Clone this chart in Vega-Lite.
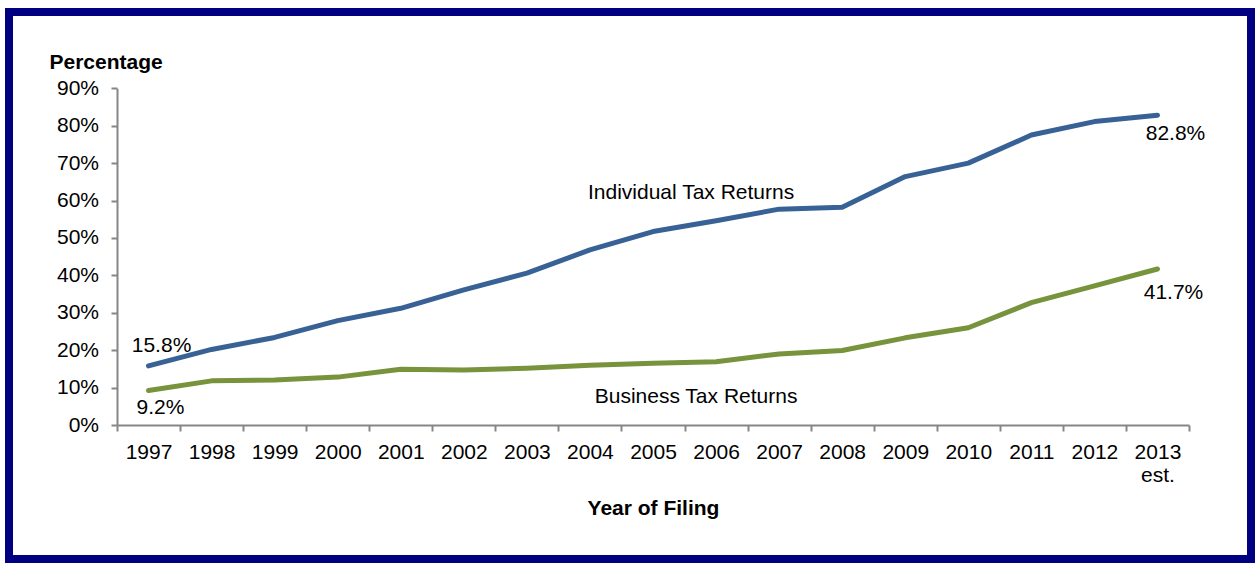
{
  "$schema": "https://vega.github.io/schema/vega-lite/v6.json",
  "width": 1242,
  "height": 547,
  "autosize": {"type": "none"},
  "padding": {"left": 9, "top": 12, "right": 7, "bottom": 4},
  "background": "white",
  "config": {
    "view": {"stroke": "#000080", "strokeWidth": 8, "fill": "white"},
    "font": "Liberation Sans",
    "text": {"font": "Liberation Sans", "fontSize": 21, "color": "black"},
    "axis": {
      "labelFont": "Liberation Sans",
      "labelFontSize": 21,
      "labelColor": "black",
      "titleFont": "Liberation Sans",
      "titleFontSize": 21,
      "titleFontWeight": "bold",
      "titleColor": "black",
      "domainColor": "#868686",
      "domainWidth": 2,
      "tickColor": "#868686",
      "tickWidth": 2,
      "tickSize": 6,
      "grid": false
    }
  },
  "datasets": {
    "rates": [
      {"year": "1997", "series": "Individual", "value": 0.158},
      {"year": "1998", "series": "Individual", "value": 0.202},
      {"year": "1999", "series": "Individual", "value": 0.234},
      {"year": "2000", "series": "Individual", "value": 0.279},
      {"year": "2001", "series": "Individual", "value": 0.312},
      {"year": "2002", "series": "Individual", "value": 0.361},
      {"year": "2003", "series": "Individual", "value": 0.406},
      {"year": "2004", "series": "Individual", "value": 0.468},
      {"year": "2005", "series": "Individual", "value": 0.517},
      {"year": "2006", "series": "Individual", "value": 0.546},
      {"year": "2007", "series": "Individual", "value": 0.577},
      {"year": "2008", "series": "Individual", "value": 0.582},
      {"year": "2009", "series": "Individual", "value": 0.664},
      {"year": "2010", "series": "Individual", "value": 0.700},
      {"year": "2011", "series": "Individual", "value": 0.775},
      {"year": "2012", "series": "Individual", "value": 0.811},
      {"year": "2013", "series": "Individual", "value": 0.828},
      {"year": "1997", "series": "Business", "value": 0.092},
      {"year": "1998", "series": "Business", "value": 0.118},
      {"year": "1999", "series": "Business", "value": 0.120},
      {"year": "2000", "series": "Business", "value": 0.128},
      {"year": "2001", "series": "Business", "value": 0.149},
      {"year": "2002", "series": "Business", "value": 0.147},
      {"year": "2003", "series": "Business", "value": 0.152},
      {"year": "2004", "series": "Business", "value": 0.160},
      {"year": "2005", "series": "Business", "value": 0.165},
      {"year": "2006", "series": "Business", "value": 0.169},
      {"year": "2007", "series": "Business", "value": 0.190},
      {"year": "2008", "series": "Business", "value": 0.199},
      {"year": "2009", "series": "Business", "value": 0.233},
      {"year": "2010", "series": "Business", "value": 0.260},
      {"year": "2011", "series": "Business", "value": 0.327},
      {"year": "2012", "series": "Business", "value": 0.372},
      {"year": "2013", "series": "Business", "value": 0.417}
    ]
  },
  "data": {"name": "rates"},
  "layer": [
    {
      "mark": {"type": "line", "strokeWidth": 5, "strokeCap": "round", "strokeJoin": "round"},
      "encoding": {
        "x": {
          "field": "year",
          "type": "nominal",
          "bandPosition": 0.5,
          "scale": {"type": "band", "range": [108, 1180], "paddingInner": 0, "paddingOuter": 0},
          "axis": {
            "title": "Year of Filing",
            "orient": "bottom",
            "offset": -134,
            "tickBand": "extent",
            "labelAngle": 0,
            "labelPadding": 10,
            "labelLineHeight": 23,
            "labelExpr": "datum.value == '2013' ? ['2013', 'est.'] : datum.label",
            "titleY": 89,
            "titleBaseline": "alphabetic"
          }
        },
        "y": {
          "field": "value",
          "type": "quantitative",
          "scale": {"domain": [0, 0.9], "range": [413, 76.3], "nice": false, "zero": true},
          "axis": {
            "title": "Percentage",
            "offset": -108,
            "values": [0, 0.1, 0.2, 0.3, 0.4, 0.5, 0.6, 0.7, 0.8, 0.9],
            "format": ".0%",
            "labelPadding": 12.5,
            "titleAngle": 0,
            "titleX": -68,
            "titleY": 56,
            "titleAlign": "left",
            "titleBaseline": "alphabetic"
          }
        },
        "color": {
          "field": "series",
          "type": "nominal",
          "scale": {"domain": ["Individual", "Business"], "range": ["#386296", "#77933C"]},
          "legend": null
        }
      }
    },
    {
      "transform": [{"filter": "datum.series == 'Individual' && datum.year == '1997'"}],
      "mark": {"type": "text", "align": "center", "baseline": "alphabetic", "dx": 13, "dy": -14},
      "encoding": {
        "x": {"field": "year", "type": "nominal", "bandPosition": 0.5},
        "y": {"field": "value", "type": "quantitative"},
        "text": {"field": "value", "type": "quantitative", "format": ".1%"}
      }
    },
    {
      "transform": [{"filter": "datum.series == 'Business' && datum.year == '1997'"}],
      "mark": {"type": "text", "align": "center", "baseline": "alphabetic", "dx": 12, "dy": 23},
      "encoding": {
        "x": {"field": "year", "type": "nominal", "bandPosition": 0.5},
        "y": {"field": "value", "type": "quantitative"},
        "text": {"field": "value", "type": "quantitative", "format": ".1%"}
      }
    },
    {
      "transform": [{"filter": "datum.series == 'Individual' && datum.year == '2013'"}],
      "mark": {"type": "text", "align": "center", "baseline": "alphabetic", "dx": 18, "dy": 25},
      "encoding": {
        "x": {"field": "year", "type": "nominal", "bandPosition": 0.5},
        "y": {"field": "value", "type": "quantitative"},
        "text": {"field": "value", "type": "quantitative", "format": ".1%"}
      }
    },
    {
      "transform": [{"filter": "datum.series == 'Business' && datum.year == '2013'"}],
      "mark": {"type": "text", "align": "center", "baseline": "alphabetic", "dx": 16, "dy": 30},
      "encoding": {
        "x": {"field": "year", "type": "nominal", "bandPosition": 0.5},
        "y": {"field": "value", "type": "quantitative"},
        "text": {"field": "value", "type": "quantitative", "format": ".1%"}
      }
    },
    {
      "data": {"values": [{}]},
      "mark": {"type": "text", "align": "center", "baseline": "alphabetic", "dx": -25, "text": "Individual Tax Returns"},
      "encoding": {
        "x": {"datum": "2006", "type": "nominal", "bandPosition": 0.5},
        "y": {"datum": 0.603, "type": "quantitative"}
      }
    },
    {
      "data": {"values": [{}]},
      "mark": {"type": "text", "align": "center", "baseline": "alphabetic", "dx": -20, "text": "Business Tax Returns"},
      "encoding": {
        "x": {"datum": "2006", "type": "nominal", "bandPosition": 0.5},
        "y": {"datum": 0.06, "type": "quantitative"}
      }
    }
  ]
}
